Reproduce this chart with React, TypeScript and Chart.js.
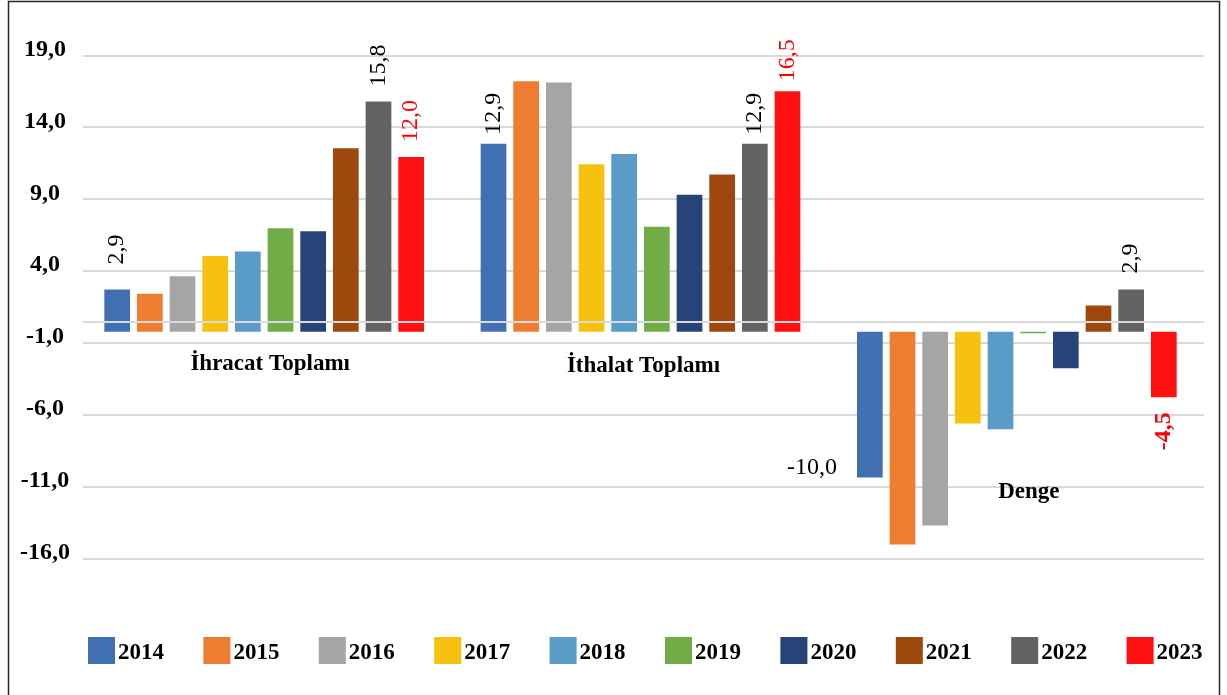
import React, { useEffect, useRef } from 'react';
import { Chart, registerables } from 'chart.js';

Chart.register(...registerables);

// ---------------- data ----------------
const CATEGORIES = ['İhracat Toplamı', 'İthalat Toplamı', 'Denge'];
const YEARS = ['2014', '2015', '2016', '2017', '2018', '2019', '2020', '2021', '2022', '2023'];
const EXPORTS = [2.9, 2.6, 3.8, 5.2, 5.5, 7.1, 6.9, 12.6, 15.8, 12.0];
const IMPORTS = [12.9, 17.2, 17.1, 11.5, 12.2, 7.2, 9.4, 10.8, 12.9, 16.5];
const BALANCE = [-10.0, -14.6, -13.3, -6.3, -6.7, -0.1, -2.5, 1.8, 2.9, -4.5];
const COLORS = [
  '#4070B2', '#ED7D31', '#A5A5A5', '#F7C110', '#5B9BC8',
  '#70AD47', '#264478', '#9E480E', '#636363', '#FF1010',
];
const Y_TICK_LABELS = ['-16,0', '-11,0', '-6,0', '-1,0', '4,0', '9,0', '14,0', '19,0'];
const Y_MIN = -15.6;
const Y_MAX = 18.96;
const AXIS_LINE_VALUE = 0.67;

// ---------------- styling / placement config ----------------
const SERIF = "'Liberation Serif', 'Times New Roman', serif";
const GRID = '#D9D9D9';
const RED = '#FF0000';
const GRID_LEFT = 83;

const DATA_LABELS = [
  { year: 0, cat: 0, mode: 'up', gap: 25, color: '#000', bold: false },
  { year: 8, cat: 0, mode: 'up', gap: 15, color: '#000', bold: false },
  { year: 9, cat: 0, mode: 'up', gap: 15, color: RED, bold: false },
  { year: 0, cat: 1, mode: 'up', gap: 9, color: '#000', bold: false },
  { year: 8, cat: 1, mode: 'up', gap: 9, color: '#000', bold: false },
  { year: 9, cat: 1, mode: 'up', gap: 10, color: RED, bold: false },
  { year: 0, cat: 2, mode: 'left', gap: 20, color: '#000', bold: false },
  { year: 8, cat: 2, mode: 'up', gap: 16, color: '#000', bold: false },
  { year: 9, cat: 2, mode: 'down', gap: 15, color: RED, bold: true },
];
const CAT_LABEL_VALUE = [-2.6, -2.75, -11.4];
const CAT_LABEL_DX = [6, 3, 12];

const fmt = (v: number) => v.toFixed(1).replace('.', ',');

const overlayPlugin = {
  id: 'overlay',
  beforeDatasetsDraw(chart: any) {
    const { ctx, chartArea, scales } = chart;
    ctx.save();
    ctx.strokeStyle = GRID;
    ctx.lineWidth = 2;
    scales.y.ticks.forEach((t: any) => {
      const py = Math.round(scales.y.getPixelForValue(t.value));
      ctx.beginPath();
      ctx.moveTo(GRID_LEFT, py);
      ctx.lineTo(chartArea.right - 1, py);
      ctx.stroke();
    });
    ctx.restore();
  },
  afterDatasetsDraw(chart: any) {
    const { ctx, chartArea, scales } = chart;
    const y = scales.y;
    const x = scales.x;
    // category axis line drawn over bars
    const ay = Math.round(y.getPixelForValue(AXIS_LINE_VALUE));
    ctx.save();
    ctx.strokeStyle = GRID;
    ctx.lineWidth = 2;
    ctx.beginPath();
    ctx.moveTo(GRID_LEFT, ay);
    ctx.lineTo(chartArea.right - 1, ay);
    ctx.stroke();
    ctx.restore();

    // data labels
    DATA_LABELS.forEach((l) => {
      const el: any = chart.getDatasetMeta(l.year).data[l.cat];
      const value = chart.data.datasets[l.year].data[l.cat] as number;
      const text = fmt(value);
      ctx.save();
      ctx.fillStyle = l.color;
      ctx.font = `${l.bold ? 'bold ' : ''}24px ${SERIF}`;
      if (l.mode === 'left') {
        ctx.textAlign = 'right';
        ctx.textBaseline = 'middle';
        ctx.fillText(text, el.x - el.width / 2 - l.gap, el.y - 10);
      } else if (l.mode === 'up') {
        ctx.translate(el.x, el.y - l.gap);
        ctx.rotate(-Math.PI / 2);
        ctx.textAlign = 'left';
        ctx.textBaseline = 'middle';
        ctx.fillText(text, 0, 0);
      } else {
        ctx.translate(el.x, el.y + l.gap);
        ctx.rotate(-Math.PI / 2);
        ctx.textAlign = 'right';
        ctx.textBaseline = 'middle';
        ctx.fillText(text, 0, 0);
      }
      ctx.restore();
    });

    // category labels
    ctx.save();
    ctx.fillStyle = '#000';
    ctx.font = `bold 23px ${SERIF}`;
    ctx.textAlign = 'center';
    ctx.textBaseline = 'alphabetic';
    CATEGORIES.forEach((c, i) => {
      ctx.fillText(c, x.getPixelForValue(i) + CAT_LABEL_DX[i], y.getPixelForValue(CAT_LABEL_VALUE[i]));
    });
    ctx.restore();
  },
  afterDraw(chart: any) {
    const { ctx } = chart;
    // legend
    ctx.save();
    ctx.font = `bold 23px ${SERIF}`;
    ctx.textBaseline = 'alphabetic';
    ctx.textAlign = 'left';
    chart.data.datasets.forEach((ds: any, i: number) => {
      const bx = 88 + i * 115.4;
      ctx.fillStyle = ds.backgroundColor;
      ctx.fillRect(bx, 637, 27, 27);
      ctx.fillStyle = '#000';
      ctx.fillText(ds.label, bx + 30, 658.5);
    });
    ctx.restore();
    // frame
    ctx.save();
    ctx.strokeStyle = '#262626';
    ctx.lineWidth = 1.5;
    ctx.strokeRect(8.5, 1.5, 1211, 800);
    ctx.restore();
  },
};

export default function App() {
  const ref = useRef<HTMLCanvasElement | null>(null);

  useEffect(() => {
    if (!ref.current) return;
    const datasets = YEARS.map((yr, i) => ({
      label: yr,
      data: [EXPORTS[i], IMPORTS[i], BALANCE[i]],
      backgroundColor: COLORS[i],
      borderWidth: 0,
      categoryPercentage: 0.868,
      barPercentage: 0.787,
    }));
    const chart = new Chart(ref.current, {
      type: 'bar',
      data: { labels: CATEGORIES, datasets },
      options: {
        responsive: false,
        animation: false,
        devicePixelRatio: 1,
        layout: { padding: { left: 16, right: 22, top: 55.5, bottom: 136 } },
        plugins: { legend: { display: false }, tooltip: { enabled: false } },
        scales: {
          x: { display: false },
          y: {
            min: Y_MIN,
            max: Y_MAX,
            afterFit: (scale: any) => {
              scale.width = 60;
            },
            afterBuildTicks: (scale: any) => {
              const step = (Y_MAX - Y_MIN) / (Y_TICK_LABELS.length - 1);
              scale.ticks = Y_TICK_LABELS.map((_, i) => ({ value: Y_MIN + i * step }));
            },
            border: { display: false },
            grid: { display: false, drawTicks: false },
            ticks: {
              callback: (_v: any, i: number) => Y_TICK_LABELS[i],
              crossAlign: 'center',
              padding: 6,
              labelOffset: -6,
              color: '#000',
              font: { family: SERIF, size: 24, weight: 'bold' },
            },
          },
        },
      },
      plugins: [overlayPlugin],
    } as any);
    return () => chart.destroy();
  }, []);

  return (
    <div style={{ position: 'absolute', left: 0, top: 0, width: 1227, height: 695, background: '#fff' }}>
      <canvas ref={ref} width={1227} height={695} />
    </div>
  );
}
